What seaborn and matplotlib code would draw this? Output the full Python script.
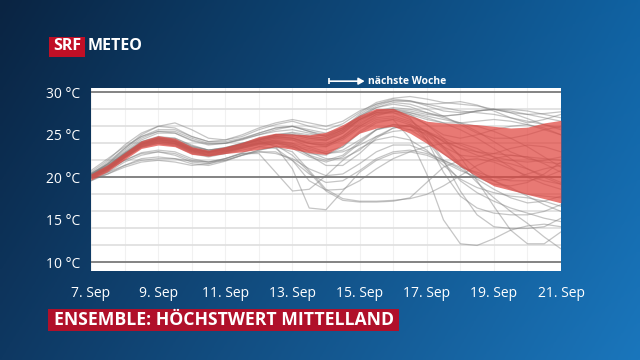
import numpy as np
import pandas as pd
import matplotlib
matplotlib.use("Agg")
import matplotlib.pyplot as plt
import seaborn as sns
from matplotlib.patches import Rectangle

# time axis: days after 7 Sep, half-day steps
days = [i * 0.5 for i in range(29)]
tick_days = [0, 2, 4, 6, 8, 10, 12, 14]
tick_labels = ["7. Sep", "9. Sep", "11. Sep", "13. Sep", "15. Sep", "17. Sep", "19. Sep", "21. Sep"]
y_ticks = [10, 15, 20, 25, 30]
y_labels = ["10 °C", "15 °C", "20 °C", "25 °C", "30 °C"]

# red band (ensemble core range)
band_low = [19.7, 20.7, 22.1, 23.4, 23.8, 23.6, 22.7, 22.5, 22.8, 23.0, 23.3, 23.6, 23.3, 22.9, 22.7,
            23.8, 25.2, 25.8, 26.0, 25.2, 24.0, 22.7, 21.3, 20.1, 19.0, 18.5, 18.0, 17.5, 17.0]
band_high = [20.4, 21.5, 22.9, 24.3, 24.9, 24.6, 23.6, 23.2, 23.6, 24.1, 24.8, 25.2, 25.1, 25.0, 25.3,
             26.2, 27.3, 28.1, 28.1, 27.3, 26.6, 26.4, 26.3, 26.2, 26.0, 25.8, 25.9, 26.4, 26.7]

# individual ensemble members
m01 = [20.2, 21.6, 23.4, 25.0, 26.0, 26.4, 25.6, 24.6, 24.4, 24.8, 25.6, 26.2, 26.6, 26.0, 25.6, 26.3, 27.6, 28.8, 29.3, 29.5, 29.2, 28.8, 28.6, 28.4, 28.0, 27.6, 27.4, 27.5, 27.7]
m02 = [20.6, 22.0, 23.8, 25.2, 26.0, 25.8, 24.8, 24.2, 24.4, 25.0, 25.8, 26.4, 26.8, 26.4, 26.0, 26.6, 27.8, 28.6, 29.0, 28.9, 28.6, 28.7, 28.9, 28.5, 27.8, 27.0, 26.4, 26.8, 27.4]
m03 = [19.8, 20.8, 22.4, 23.7, 24.2, 24.0, 23.3, 23.0, 23.4, 23.9, 24.5, 25.0, 25.3, 25.0, 24.9, 25.8, 27.2, 28.2, 28.6, 28.3, 27.6, 27.2, 27.4, 27.8, 28.0, 27.6, 26.9, 26.2, 25.6]
m04 = [20.5, 21.5, 22.8, 24.0, 24.6, 24.3, 23.5, 23.0, 23.2, 23.6, 24.0, 24.4, 24.4, 24.0, 23.8, 24.6, 26.0, 27.2, 27.8, 27.4, 26.2, 25.0, 24.6, 25.0, 25.6, 26.0, 26.2, 25.8, 25.0]
m05 = [20.1, 21.0, 22.3, 23.6, 24.1, 23.9, 23.0, 22.6, 23.0, 23.5, 24.0, 24.3, 23.8, 22.6, 21.4, 21.4, 22.8, 24.6, 25.8, 26.2, 25.4, 23.6, 21.6, 20.0, 19.2, 19.0, 19.4, 20.4, 21.8]
m06 = [19.6, 20.4, 21.4, 22.2, 22.4, 22.2, 21.6, 21.4, 21.9, 22.6, 23.2, 23.6, 23.0, 20.8, 18.6, 17.5, 17.2, 17.2, 17.3, 17.5, 18.0, 19.0, 20.2, 21.4, 22.2, 22.6, 22.4, 21.6, 20.6]
m07 = [20.3, 21.4, 22.9, 24.2, 24.7, 24.4, 23.6, 23.2, 23.5, 24.0, 24.3, 23.6, 21.0, 16.4, 16.2, 18.4, 20.6, 22.0, 22.8, 23.0, 22.6, 21.8, 20.8, 20.0, 19.6, 19.8, 20.4, 21.0, 21.4]
m08 = [20.0, 21.1, 22.6, 23.9, 24.4, 24.2, 23.2, 22.6, 22.8, 23.2, 23.6, 23.4, 22.0, 19.6, 18.5, 18.6, 19.6, 21.0, 22.2, 23.0, 23.6, 24.0, 24.0, 23.4, 22.4, 21.2, 20.0, 19.2, 18.6]
m09 = [20.2, 21.2, 22.7, 24.0, 24.5, 24.2, 23.3, 22.9, 23.2, 23.7, 24.0, 23.8, 22.6, 20.6, 18.4, 17.3, 17.1, 17.1, 17.2, 17.6, 19.4, 21.2, 22.0, 22.2, 21.8, 21.0, 20.2, 19.6, 19.2]
m10 = [20.0, 20.6, 21.4, 22.0, 22.2, 22.2, 21.9, 21.8, 22.2, 22.8, 22.8, 20.6, 18.4, 18.6, 20.2, 22.0, 23.4, 24.4, 24.8, 24.4, 23.2, 21.4, 19.8, 18.8, 18.2, 17.8, 17.6, 17.2, 16.6]
m11 = [20.1, 21.0, 22.5, 23.8, 24.3, 24.0, 23.1, 22.8, 23.1, 23.5, 23.9, 24.1, 23.6, 22.8, 22.6, 23.6, 25.4, 26.6, 26.8, 24.6, 20.4, 15.0, 12.2, 12.0, 12.8, 13.8, 14.3, 14.5, 14.2]
m12 = [20.0, 21.0, 22.4, 23.6, 24.0, 23.7, 22.8, 22.4, 22.8, 23.4, 23.9, 24.2, 24.0, 23.6, 23.6, 24.4, 25.8, 26.8, 27.0, 26.4, 24.8, 22.0, 18.4, 15.6, 14.2, 14.0, 14.0, 14.2, 15.2]
m13 = [20.2, 21.2, 22.6, 23.9, 24.4, 24.1, 23.2, 22.9, 23.3, 23.8, 24.4, 24.8, 24.6, 24.0, 23.6, 24.8, 26.4, 27.4, 27.6, 27.2, 26.2, 24.6, 22.4, 19.6, 16.6, 13.8, 12.2, 12.2, 13.6]
m14 = [19.9, 20.9, 22.3, 23.6, 24.2, 24.0, 23.2, 22.8, 23.0, 23.4, 23.8, 24.0, 23.4, 22.4, 21.8, 22.4, 24.0, 25.6, 26.2, 26.0, 25.0, 23.4, 21.4, 19.4, 17.6, 16.0, 14.6, 13.0, 11.6]
m15 = [20.3, 21.3, 22.8, 24.1, 24.6, 24.3, 23.4, 23.0, 23.4, 23.9, 24.4, 24.7, 24.8, 24.4, 24.3, 25.2, 26.8, 27.8, 28.0, 27.0, 24.4, 20.6, 17.8, 16.4, 15.8, 15.6, 15.6, 16.0, 16.8]
m16 = [20.0, 21.0, 22.4, 23.7, 24.2, 23.9, 23.0, 22.6, 23.0, 23.6, 24.2, 24.6, 24.4, 23.6, 23.0, 23.6, 25.2, 26.4, 26.8, 26.2, 24.4, 21.8, 19.6, 18.2, 17.2, 16.4, 15.8, 15.2, 14.8]
m17 = [20.4, 21.8, 23.4, 24.8, 25.6, 25.6, 24.8, 24.2, 24.2, 24.6, 25.2, 25.8, 26.0, 25.4, 25.0, 25.8, 27.0, 27.8, 28.0, 27.6, 27.0, 26.4, 25.6, 24.6, 23.4, 22.2, 21.0, 20.0, 19.2]
m18 = [20.1, 21.1, 22.5, 23.8, 24.4, 24.2, 23.3, 22.9, 23.2, 23.7, 24.2, 24.6, 24.6, 24.2, 24.0, 24.8, 26.2, 27.4, 27.8, 27.6, 27.2, 26.8, 26.4, 26.0, 25.4, 24.6, 23.6, 22.4, 21.2]
m19 = [19.9, 20.8, 22.0, 22.8, 23.0, 22.6, 21.8, 21.6, 22.0, 22.6, 23.2, 23.6, 23.6, 23.2, 22.8, 23.2, 24.4, 25.6, 26.2, 26.0, 25.4, 24.6, 23.8, 23.0, 22.4, 22.0, 21.8, 22.0, 22.4]
m20 = [20.8, 22.2, 23.6, 24.8, 25.4, 25.2, 24.4, 23.9, 24.0, 24.5, 25.2, 25.8, 26.0, 25.4, 24.8, 25.6, 26.8, 27.6, 27.8, 27.4, 26.8, 26.4, 26.4, 26.6, 26.8, 26.6, 26.2, 25.6, 25.0]
m21 = [20.2, 21.2, 22.6, 23.9, 24.4, 24.2, 23.4, 23.0, 23.3, 23.8, 24.3, 24.8, 25.0, 24.8, 24.6, 25.6, 27.2, 28.4, 29.0, 29.0, 28.6, 28.2, 27.8, 27.6, 27.4, 27.0, 26.6, 26.2, 25.8]
m22 = [20.1, 21.0, 22.0, 22.9, 23.2, 23.0, 22.2, 21.8, 22.2, 22.9, 23.6, 24.0, 23.8, 23.4, 22.8, 23.0, 23.8, 24.8, 25.4, 25.6, 25.2, 24.4, 23.4, 22.6, 22.0, 21.6, 21.0, 20.2, 19.4]
m23 = [20.3, 21.3, 22.7, 24.0, 24.5, 24.2, 23.4, 23.0, 23.4, 24.0, 24.6, 25.0, 25.0, 24.6, 24.4, 25.4, 26.8, 27.8, 28.2, 28.0, 27.6, 27.0, 26.4, 25.4, 24.2, 23.0, 22.2, 21.8, 21.6]
m24 = [19.8, 20.4, 21.2, 21.8, 22.0, 21.8, 21.4, 21.6, 22.2, 22.8, 23.0, 22.8, 22.2, 21.0, 20.2, 20.4, 21.6, 23.0, 23.8, 23.8, 23.0, 22.0, 21.2, 20.6, 20.0, 19.6, 19.6, 20.0, 20.8]
m25 = [20.1, 21.1, 22.6, 23.9, 24.6, 24.6, 23.8, 23.2, 23.4, 23.8, 24.4, 25.0, 25.2, 24.8, 24.6, 25.4, 26.8, 27.6, 27.6, 26.8, 25.2, 23.6, 22.6, 22.4, 22.8, 23.4, 23.8, 23.6, 23.0]
m26 = [20.3, 21.6, 23.2, 24.6, 25.4, 25.4, 24.6, 24.0, 24.0, 24.5, 25.0, 25.4, 25.6, 25.2, 24.8, 25.6, 27.0, 28.2, 28.8, 28.6, 28.0, 27.2, 26.2, 25.2, 24.6, 24.6, 25.0, 25.6, 26.0]
m27 = [20.0, 20.9, 22.3, 23.5, 24.0, 23.8, 22.9, 22.5, 22.9, 23.5, 24.0, 24.2, 23.6, 22.6, 22.0, 22.6, 24.2, 25.6, 26.0, 25.6, 24.4, 22.8, 21.4, 20.4, 19.6, 18.8, 17.8, 16.8, 16.0]
m28 = [20.4, 21.4, 22.8, 24.2, 24.8, 24.6, 23.7, 23.2, 23.4, 23.9, 24.4, 24.9, 25.0, 24.6, 24.4, 25.2, 26.6, 27.6, 28.0, 27.8, 27.4, 27.2, 27.4, 27.8, 28.0, 27.8, 27.4, 27.0, 26.6]
m29 = [19.6, 20.6, 21.8, 22.6, 23.0, 22.8, 22.0, 21.8, 22.0, 22.6, 23.0, 23.0, 22.0, 20.4, 19.4, 19.6, 20.8, 22.2, 23.0, 23.2, 22.8, 22.0, 21.0, 19.8, 18.6, 17.6, 17.0, 17.2, 17.8]
m30 = [20.2, 21.2, 22.7, 24.0, 24.6, 24.4, 23.6, 23.2, 23.5, 24.0, 24.5, 24.8, 24.6, 24.0, 23.8, 24.6, 26.0, 27.0, 27.2, 26.6, 25.4, 24.2, 23.4, 23.0, 22.8, 22.6, 22.4, 22.2, 22.0]
m31 = [20.1, 21.1, 22.5, 23.8, 24.3, 24.0, 23.1, 22.7, 23.1, 23.6, 24.1, 24.4, 24.0, 23.0, 22.2, 22.2, 23.2, 24.8, 25.8, 26.0, 25.4, 24.2, 22.6, 21.0, 19.6, 18.6, 18.0, 17.8, 17.6]
m32 = [20.4, 21.6, 23.0, 24.4, 25.2, 25.2, 24.3, 23.8, 24.0, 24.4, 25.0, 25.6, 26.0, 25.6, 25.2, 25.8, 27.4, 28.6, 29.2, 29.0, 28.4, 27.8, 27.6, 27.8, 28.0, 28.0, 27.8, 27.4, 27.0]

members = [m01, m02, m03, m04, m05, m06, m07, m08, m09, m10, m11, m12, m13, m14, m15, m16,
           m17, m18, m19, m20, m21, m22, m23, m24, m25, m26, m27, m28, m29, m30, m31, m32]

df = pd.DataFrame([
    {"member": i, "day": d, "temp": t}
    for i, vals in enumerate(members) for d, t in zip(days, vals)
])

sns.set_style("white")
plt.rcParams["font.family"] = ["Open Sans", "DejaVu Sans"]

fig = plt.figure(figsize=(6.4, 3.6), dpi=100)

# blue gradient background
bg = fig.add_axes([0, 0, 1, 1], zorder=-10)
tl, tr = np.array([10, 36, 66]), np.array([16, 98, 162])
bl, br = np.array([14, 56, 98]), np.array([26, 118, 188])
u = np.linspace(0, 1, 200)[None, :, None]
v = np.linspace(0, 1, 120)[:, None, None]
grad = (1 - v) * ((1 - u) * tl + u * tr) + v * ((1 - u) * bl + u * br)
bg.imshow(grad / 255.0, aspect="auto", extent=[0, 1, 0, 1])
bg.axis("off")

ax = fig.add_axes([91 / 640, 1 - 271 / 360, 470 / 640, 183 / 360])
ax.set_facecolor("white")

for d in range(15):
    ax.axvline(d, color="#f1f1f1", lw=0.8, zorder=0)
for y in range(10, 31, 2):
    dark = y in (10, 20, 30)
    ax.axhline(y, color="#7a7a7a" if dark else "#dedede", lw=1.3 if dark else 1.2, zorder=1)

sns.lineplot(data=df, x="day", y="temp", units="member", estimator=None,
             color="#808080", alpha=0.45, lw=0.9, ax=ax, zorder=2)
ax.fill_between(days, band_low, band_high, color="#e0453f", alpha=0.72, lw=0, zorder=3)

ax.set_xlim(0, 14)
ax.set_ylim(9.0, 30.5)
ax.set_xlabel("")
ax.set_ylabel("")
ax.set_xticks(tick_days)
ax.set_xticklabels(tick_labels)
ax.set_xticks(range(15), minor=True)
ax.set_yticks(y_ticks)
ax.set_yticklabels(y_labels)
ax.tick_params(axis="both", which="major", colors="#9fb4c8", labelcolor="white",
               labelsize=10, length=5, width=1)
ax.tick_params(axis="x", pad=6)
ax.tick_params(axis="x", which="minor", direction="in", length=3, color="#999999")
ax.tick_params(axis="y", pad=3)
for s in ax.spines.values():
    s.set_visible(False)

# "next week" marker
ax.annotate("", xy=(8.15, 31.3), xytext=(7.1, 31.3), annotation_clip=False,
            arrowprops=dict(arrowstyle="-|>,head_length=0.35,head_width=0.2",
                            color="white", lw=1.2, shrinkA=0, shrinkB=0))
ax.plot([7.1], [31.3], marker="|", color="white", ms=5, mew=1.2, clip_on=False)
ax.text(8.25, 31.3, "nächste Woche", color="white", fontsize=7.5, fontweight="bold",
        va="center", ha="left", clip_on=False)

# SRF METEO logo
fig.patches.append(Rectangle((49 / 640, 1 - 57 / 360), 36 / 640, 20 / 360,
                             transform=fig.transFigure, fc="#c10f26", ec="none"))
fig.text(67 / 640, 1 - 46.5 / 360, "SRF", color="white", fontsize=11.5, fontweight="bold",
         va="center", ha="center")
fig.text(88 / 640, 1 - 46.5 / 360, "METEO", color="white", fontsize=11.5, fontweight="bold",
         va="center", ha="left")

# title bar
fig.patches.append(Rectangle((48 / 640, 1 - 331 / 360), 351 / 640, 22 / 360,
                             transform=fig.transFigure, fc="#b0102a", ec="none"))
fig.text(54 / 640, 1 - 320 / 360, "ENSEMBLE: HÖCHSTWERT MITTELLAND", color="white",
         fontsize=12.7, fontweight="bold", va="center", ha="left")

fig.savefig("out.png", dpi=100)
